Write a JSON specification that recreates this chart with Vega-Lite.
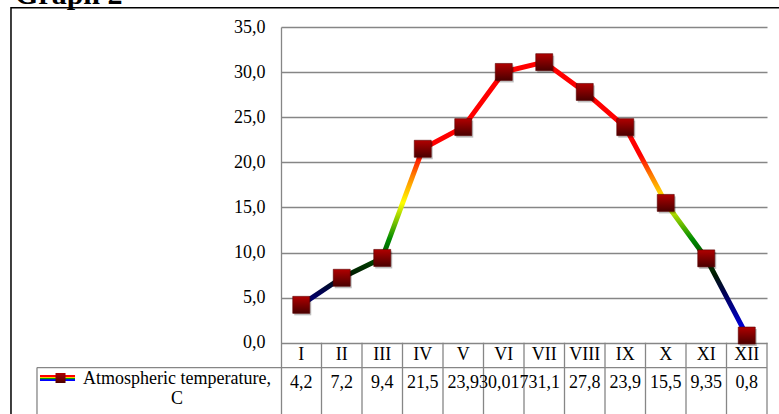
{
  "$schema": "https://vega.github.io/schema/vega-lite/v6.json",
  "width": 486,
  "height": 387,
  "autosize": {"type": "none"},
  "padding": {"left": 281, "top": 27, "right": 12, "bottom": 0},
  "background": "white",
  "config": {
    "view": {"stroke": null},
    "font": "Liberation Serif",
    "locale": {"number": {"decimal": ",", "thousands": " ", "grouping": [3], "currency": ["", ""]}}
  },
  "datasets": {
    "temps": [
      {"month": "I", "idx": 1, "temp": 4.2},
      {"month": "II", "idx": 2, "temp": 7.2},
      {"month": "III", "idx": 3, "temp": 9.4},
      {"month": "IV", "idx": 4, "temp": 21.5},
      {"month": "V", "idx": 5, "temp": 23.9},
      {"month": "VI", "idx": 6, "temp": 30.017},
      {"month": "VII", "idx": 7, "temp": 31.1},
      {"month": "VIII", "idx": 8, "temp": 27.8},
      {"month": "IX", "idx": 9, "temp": 23.9},
      {"month": "X", "idx": 10, "temp": 15.5},
      {"month": "XI", "idx": 11, "temp": 9.35},
      {"month": "XII", "idx": 12, "temp": 0.8}
    ],
    "cols": [
      {"b": 1.5}, {"b": 2.5}, {"b": 3.5}, {"b": 4.5}, {"b": 5.5}, {"b": 6.5},
      {"b": 7.5}, {"b": 8.5}, {"b": 9.5}, {"b": 10.5}, {"b": 11.5}, {"b": 12.5}
    ],
    "one": [{"series": "Atmospheric temperature,\nC"}]
  },
  "data": {"name": "temps"},
  "layer": [
    {
      "mark": {"type": "line", "strokeWidth": 5, "strokeJoin": "round",
        "stroke": {"gradient": "linear", "x1": 0, "y1": 1, "x2": 0, "y2": 0,
          "stops": [
            {"offset": 0, "color": "#0000ff"},
            {"offset": 0.073, "color": "#0000a8"},
            {"offset": 0.155, "color": "#000055"},
            {"offset": 0.221, "color": "#001a00"},
            {"offset": 0.287, "color": "#004c00"},
            {"offset": 0.353, "color": "#008c00"},
            {"offset": 0.485, "color": "#ffff00"},
            {"offset": 0.584, "color": "#ff8000"},
            {"offset": 0.66, "color": "#ff0000"},
            {"offset": 1, "color": "#ff0000"}
          ]}},
      "encoding": {
        "x": {"field": "idx", "type": "quantitative", "scale": {"domain": [0.5, 12.5], "nice": false, "zero": false}, "axis": null},
        "y": {"field": "temp", "type": "quantitative", "scale": {"domain": [-7.9, 35], "nice": false, "zero": false},
          "axis": {"values": [0, 5, 10, 15, 20, 25, 30, 35], "format": ".1f", "title": null, "ticks": false,
            "domainColor": "#868686", "domainWidth": 1.3, "grid": true, "gridColor": "#868686", "gridWidth": 1.3,
            "labelFont": "Liberation Serif", "labelFontSize": 18, "labelColor": "#000000", "labelPadding": 16}}
      }
    },
    {
      "data": {"name": "cols"},
      "mark": {"type": "rule", "color": "#868686", "strokeWidth": 1.3},
      "encoding": {
        "x": {"field": "b", "type": "quantitative", "scale": {"domain": [0.5, 12.5], "nice": false, "zero": false}},
        "y": {"datum": 0, "type": "quantitative", "scale": {"domain": [-7.9, 35], "nice": false, "zero": false}},
        "y2": {"datum": -7.9}
      }
    },
    {
      "data": {"name": "one"},
      "mark": {"type": "rule", "color": "#868686", "strokeWidth": 1.3},
      "encoding": {
        "x": {"datum": -5.525, "type": "quantitative", "scale": {"domain": [0.5, 12.5], "nice": false, "zero": false}},
        "x2": {"datum": 12.5},
        "y": {"datum": -2.75, "type": "quantitative", "scale": {"domain": [-7.9, 35], "nice": false, "zero": false}}
      }
    },
    {
      "data": {"name": "one"},
      "mark": {"type": "rule", "color": "#868686", "strokeWidth": 1.3},
      "encoding": {
        "x": {"datum": -5.525, "type": "quantitative", "scale": {"domain": [0.5, 12.5], "nice": false, "zero": false}},
        "y": {"datum": -2.75, "type": "quantitative", "scale": {"domain": [-7.9, 35], "nice": false, "zero": false}},
        "y2": {"datum": -7.9}
      }
    },
    {
      "data": {"name": "one"},
      "mark": {"type": "rect", "fill": null, "stroke": "#000000", "strokeWidth": 1.5},
      "encoding": {
        "x": {"datum": -6.167, "type": "quantitative", "scale": {"domain": [0.5, 12.5], "nice": false, "zero": false}},
        "x2": {"datum": 14},
        "y": {"datum": 37.14, "type": "quantitative", "scale": {"domain": [-7.9, 35], "nice": false, "zero": false}},
        "y2": {"datum": -10}
      }
    },
    {
      "mark": {"type": "point", "shape": "square", "size": 289, "filled": true, "fill": "#000000", "opacity": 0.25, "xOffset": 1.5, "yOffset": 2},
      "encoding": {
        "x": {"field": "idx", "type": "quantitative", "scale": {"domain": [0.5, 12.5], "nice": false, "zero": false}},
        "y": {"field": "temp", "type": "quantitative", "scale": {"domain": [-7.9, 35], "nice": false, "zero": false}}
      }
    },
    {
      "mark": {"type": "point", "shape": "square", "size": 289, "filled": true, "opacity": 1,
        "fill": {"gradient": "linear", "x1": 0, "y1": 0, "x2": 0, "y2": 1,
          "stops": [{"offset": 0, "color": "#b00000"}, {"offset": 1, "color": "#4a0000"}]},
        "stroke": "#5a0000", "strokeWidth": 0.6},
      "encoding": {
        "x": {"field": "idx", "type": "quantitative", "scale": {"domain": [0.5, 12.5], "nice": false, "zero": false}},
        "y": {"field": "temp", "type": "quantitative", "scale": {"domain": [-7.9, 35], "nice": false, "zero": false}}
      }
    },
    {
      "mark": {"type": "text", "fontSize": 18, "baseline": "middle", "align": "center", "color": "#000000", "font": "Liberation Serif"},
      "encoding": {
        "x": {"field": "idx", "type": "quantitative", "scale": {"domain": [0.5, 12.5], "nice": false, "zero": false}},
        "y": {"datum": -1.36, "type": "quantitative", "scale": {"domain": [-7.9, 35], "nice": false, "zero": false}},
        "text": {"field": "month"}
      }
    },
    {
      "mark": {"type": "text", "fontSize": 18, "baseline": "middle", "align": "center", "color": "#000000", "font": "Liberation Serif"},
      "encoding": {
        "x": {"field": "idx", "type": "quantitative", "scale": {"domain": [0.5, 12.5], "nice": false, "zero": false}},
        "y": {"datum": -4.5, "type": "quantitative", "scale": {"domain": [-7.9, 35], "nice": false, "zero": false}},
        "text": {"field": "temp", "type": "quantitative", "format": "~g"}
      }
    },
    {
      "data": {"name": "one"},
      "mark": {"type": "rect",
        "fill": {"gradient": "linear", "x1": 0, "y1": 0, "x2": 0, "y2": 1,
          "stops": [
            {"offset": 0, "color": "#ff0000"}, {"offset": 0.25, "color": "#ff0000"},
            {"offset": 0.26, "color": "#ffcc00"}, {"offset": 0.45, "color": "#ffcc00"},
            {"offset": 0.5, "color": "#00a000"}, {"offset": 0.7, "color": "#00a000"},
            {"offset": 0.75, "color": "#0000ff"}, {"offset": 1, "color": "#0000ff"}
          ]}},
      "encoding": {
        "x": {"datum": -5.451, "type": "quantitative", "scale": {"domain": [0.5, 12.5], "nice": false, "zero": false}},
        "x2": {"datum": -4.586},
        "y": {"datum": -3.58, "type": "quantitative", "scale": {"domain": [-7.9, 35], "nice": false, "zero": false}},
        "y2": {"datum": -4.25}
      }
    },
    {
      "data": {"name": "one"},
      "mark": {"type": "point", "shape": "square", "size": 100, "filled": true, "opacity": 1,
        "fill": {"gradient": "linear", "x1": 0, "y1": 0, "x2": 0, "y2": 1,
          "stops": [{"offset": 0, "color": "#b00000"}, {"offset": 1, "color": "#4a0000"}]}},
      "encoding": {
        "x": {"datum": -4.944, "type": "quantitative", "scale": {"domain": [0.5, 12.5], "nice": false, "zero": false}},
        "y": {"datum": -3.91, "type": "quantitative", "scale": {"domain": [-7.9, 35], "nice": false, "zero": false}}
      }
    },
    {
      "data": {"name": "one"},
      "mark": {"type": "text", "fontSize": 18, "lineBreak": "\n", "lineHeight": 20, "baseline": "alphabetic", "align": "center", "color": "#000000", "font": "Liberation Serif"},
      "encoding": {
        "x": {"datum": -2.068, "type": "quantitative", "scale": {"domain": [0.5, 12.5], "nice": false, "zero": false}},
        "y": {"datum": -4.58, "type": "quantitative", "scale": {"domain": [-7.9, 35], "nice": false, "zero": false}},
        "text": {"field": "series"}
      }
    },
    {
      "data": {"values": [{"title": "Graph 2"}]},
      "mark": {"type": "text", "fontSize": 30, "fontWeight": "bold", "baseline": "alphabetic", "align": "left", "color": "#000000", "font": "Liberation Serif"},
      "encoding": {
        "x": {"datum": -6.068, "type": "quantitative", "scale": {"domain": [0.5, 12.5], "nice": false, "zero": false}},
        "y": {"datum": 37.6, "type": "quantitative", "scale": {"domain": [-7.9, 35], "nice": false, "zero": false}},
        "text": {"field": "title"}
      }
    }
  ]
}
